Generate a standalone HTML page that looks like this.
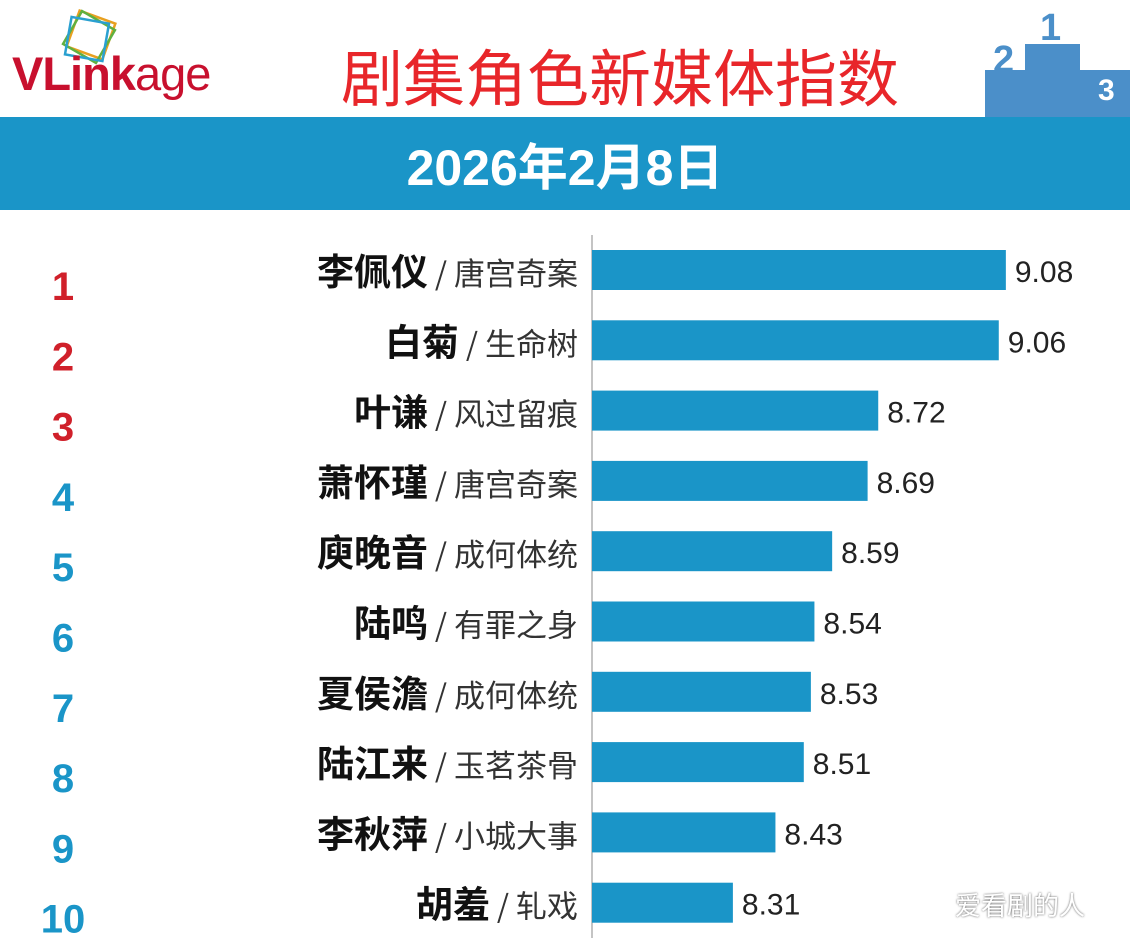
<!DOCTYPE html>
<html><head><meta charset="utf-8"><style>
body{margin:0;width:1130px;height:938px;background:#fff;overflow:hidden;position:relative;font-family:"Liberation Sans","Noto Sans CJK SC",sans-serif}
.abs{position:absolute}
</style></head><body>
<div class="abs" style="left:10px;top:8px;width:250px;height:95px">
<svg width="250" height="95"><g fill="none" stroke-width="2.5"><rect x="62" y="8" width="38" height="38" transform="rotate(20 81 27)" stroke="#e8a020"/><rect x="60" y="10" width="38" height="38" transform="rotate(30 79 29)" stroke="#60b040"/><rect x="58" y="12" width="38" height="38" transform="rotate(10 77 31)" stroke="#2aa0d0"/></g></svg>
<div class="abs" style="left:2px;top:38px;font-size:47px;font-weight:bold;color:#c8102e;letter-spacing:-1px">VLink<span style="font-weight:normal">age</span></div>
</div>
<div class="abs" style="left:320px;top:36px;width:600px;text-align:center;font-size:62px;color:#e8262a;line-height:76px;font-family:'Noto Sans CJK SC',sans-serif">剧集角色新媒体指数</div>
<svg class="abs" style="left:985px;top:0" width="145" height="118">
<rect x="0" y="70" width="145" height="48" fill="#4b8fc9"/><rect x="40" y="44" width="55" height="74" fill="#4b8fc9"/><rect x="95" y="85" width="50" height="33" fill="#4b8fc9"/>
<text x="8" y="72" font-size="38" font-weight="bold" fill="#4b8fc9">2</text><text x="55" y="40" font-size="38" font-weight="bold" fill="#4b8fc9">1</text><text x="113" y="100" font-size="30" font-weight="bold" fill="#fff">3</text></svg>
<div class="abs" style="left:0;top:117px;width:1130px;height:93px;background:#1a95c8"></div>
<div class="abs" style="left:0;top:136px;width:1130px;text-align:center;font-size:50px;font-weight:bold;color:#fff;line-height:64px">2026年2月8日</div>
<svg id="chart" class="abs" style="left:0;top:0" width="1130" height="938"></svg>
<div class="abs" style="left:955px;top:886px;font-size:26px;color:#fff;text-shadow:0 0 2px #555">爱看剧的人</div>
<script>
const names=["李佩仪","白菊","叶谦","萧怀瑾","庾晚音","陆鸣","夏侯澹","陆江来","李秋萍","胡羞"];
const shows=["唐宫奇案","生命树","风过留痕","唐宫奇案","成何体统","有罪之身","成何体统","玉茗茶骨","小城大事","轧戏"];
const values=[9.08,9.06,8.72,8.69,8.59,8.54,8.53,8.51,8.43,8.31];
const labels=["9.08","9.06","8.72","8.69","8.59","8.54","8.53","8.51","8.43","8.31"];
const ranks=["1","2","3","4","5","6","7","8","9","10"];
const svg=document.getElementById('chart');const NS="http://www.w3.org/2000/svg";
const x=v=>354.5*v-2213;const x0=592;
const y=i=>250+i*70.3;
function mk(t,a){const e=document.createElementNS(NS,t);for(const k in a)e.setAttribute(k,a[k]);svg.appendChild(e);return e;}
const ax=mk('line',{x1:x0,y1:235,x2:x0,y2:938,stroke:'#888','stroke-width':1});


values.forEach((v,i)=>{
 const b=mk('rect',{x:x0,y:y(i),width:x(v)-x0,height:40,fill:'#1a95c8'});
 
 
 const t=mk('text',{x:x(v)+9,y:y(i)+32,'font-size':30,fill:'#222'});t.textContent=labels[i];
 
 
 const r=mk('text',{x:63,y:y(i)+50,'font-size':40,'font-weight':'bold','text-anchor':'middle',fill:i<3?'#d0202a':'#1a95c8'});r.textContent=ranks[i];
 
 
 const n=mk('text',{x:578,y:y(i)+35,'text-anchor':'end','font-family':'Noto Sans CJK SC, sans-serif'});
 
 
 const s1=document.createElementNS(NS,'tspan');s1.setAttribute('font-size','37');s1.setAttribute('font-weight','bold');s1.setAttribute('fill','#111');s1.textContent=names[i];n.appendChild(s1);
 const s2=document.createElementNS(NS,'tspan');s2.setAttribute('font-size','31');s2.setAttribute('fill','#333');s2.textContent=' / '+shows[i];n.appendChild(s2);
});
</script>
</body></html>
